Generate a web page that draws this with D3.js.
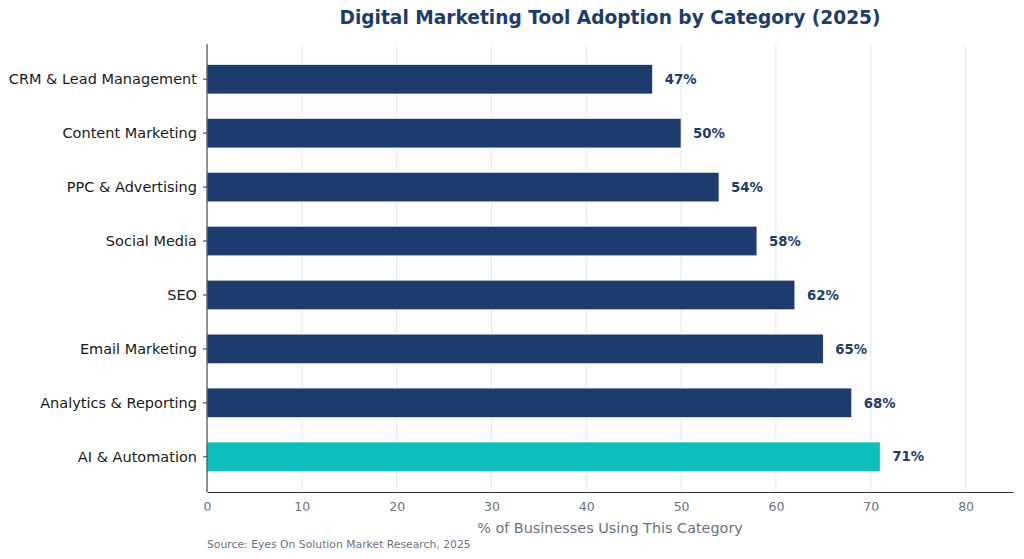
<!DOCTYPE html>
<html>
<head>
<meta charset="utf-8">
<script src="https://cdn.jsdelivr.net/npm/d3@7"></script>
<style>
  body { margin: 0; background: #fff; }
  svg text { font-family: "DejaVu Sans", sans-serif; }
</style>
</head>
<body>
<div id="chart"></div>
<script>
// data, top to bottom
var categories = ["CRM & Lead Management", "Content Marketing", "PPC & Advertising", "Social Media",
                  "SEO", "Email Marketing", "Analytics & Reporting", "AI & Automation"];
var adoption = [47, 50, 54, 58, 62, 65, 68, 71];
var highlight = ["AI & Automation"];
var xTicks = [0, 10, 20, 30, 40, 50, 60, 70, 80];

var width = 1024, height = 559;
var margin = {top: 44, right: 11, bottom: 67, left: 207};
var innerW = width - margin.left - margin.right,
    innerH = height - margin.top - margin.bottom;

var navy = "#1d3c6e", teal = "#0bbfbd";

var svg = d3.select("#chart")
        .append("svg")
        .attr("width", width)
        .attr("height", height);

var g = svg.append("g")
        .attr("transform", "translate(" + margin.left + "," + margin.top + ")");

var x = d3.scaleLinear()
        .domain([0, 85])
        .range([0, innerW]);

// matplotlib-like band: bar height 0.55 of step, 5% padding on limits
var n = categories.length;
var lo = -0.275 - 0.05 * (n - 1 + 0.55), hi = n - 1 + 0.275 + 0.05 * (n - 1 + 0.55);
var yPos = d3.scaleLinear()
        .domain([lo, hi])
        .range([0, innerH]);
var step = yPos(1) - yPos(0);
var barH = step * 0.55;

// grid
g.selectAll("line.grid")
        .data(xTicks.filter(function(d){ return d > 0; }))
        .enter()
        .append("line")
        .attr("class", "grid")
        .attr("x1", function(d){ return x(d); })
        .attr("x2", function(d){ return x(d); })
        .attr("y1", 0)
        .attr("y2", innerH)
        .attr("stroke", "#e6e6e6")
        .attr("stroke-width", 1);

// bars
g.selectAll("rect.bar")
        .data(categories)
        .enter()
        .append("rect")
        .attr("class", "bar")
        .attr("x", x(0))
        .attr("y", function(d, i){ return yPos(i) - barH / 2; })
        .attr("width", function(d, i){ return x(adoption[i]) - x(0); })
        .attr("height", barH)
        .attr("fill", function(d){ return highlight.indexOf(d) >= 0 ? teal : navy; })
        .attr("stroke", "#fff")
        .attr("stroke-width", 0.8);

// value labels
g.selectAll("text.val")
        .data(categories)
        .enter()
        .append("text")
        .attr("class", "val")
        .attr("x", function(d, i){ return x(adoption[i]) + 12; })
        .attr("y", function(d, i){ return yPos(i); })
        .attr("dy", "0.35em")
        .attr("fill", navy)
        .attr("font-size", "13.3px")
        .attr("font-weight", "bold")
        .text(function(d, i){ return adoption[i] + "%"; });

// y axis
var yAxis = g.append("g");
yAxis.append("line")
        .attr("x1", 0).attr("x2", 0)
        .attr("y1", 0).attr("y2", innerH)
        .attr("stroke", "#333").attr("stroke-width", 1.1);
var yt = yAxis.selectAll("g.ytick")
        .data(categories)
        .enter()
        .append("g")
        .attr("transform", function(d, i){ return "translate(0," + yPos(i) + ")"; });
yt.append("line")
        .attr("x1", -4).attr("x2", 0)
        .attr("stroke", "#333");
yt.append("text")
        .attr("x", -10)
        .attr("dy", "0.35em")
        .attr("text-anchor", "end")
        .attr("fill", "#1a1a1a")
        .attr("font-size", "14.5px")
        .text(function(d){ return d; });

// x axis
var xAxis = g.append("g")
        .attr("transform", "translate(0," + innerH + ")")
        .call(d3.axisBottom(x).tickValues(xTicks).tickSize(0).tickPadding(10));
xAxis.select(".domain").attr("stroke", "#333").attr("stroke-width", 1.1);
xAxis.selectAll("text")
        .attr("fill", "#6b7280")
        .attr("font-size", "12.5px")
        .style("font-family", "DejaVu Sans, sans-serif");

// axis label
svg.append("text")
        .attr("x", margin.left + innerW / 2)
        .attr("y", 533)
        .attr("text-anchor", "middle")
        .attr("fill", "#6b7280")
        .attr("font-size", "14.4px")
        .text("% of Businesses Using This Category");

// title
svg.append("text")
        .attr("x", margin.left + innerW / 2)
        .attr("y", 24)
        .attr("text-anchor", "middle")
        .attr("fill", "#1d3c6e")
        .attr("font-size", "18.6px")
        .attr("font-weight", "bold")
        .text("Digital Marketing Tool Adoption by Category (2025)");

// source
svg.append("text")
        .attr("x", margin.left)
        .attr("y", 548)
        .attr("fill", "#6b7280")
        .attr("font-size", "10.8px")
        .text("Source: Eyes On Solution Market Research, 2025");
</script>
</body>
</html>
